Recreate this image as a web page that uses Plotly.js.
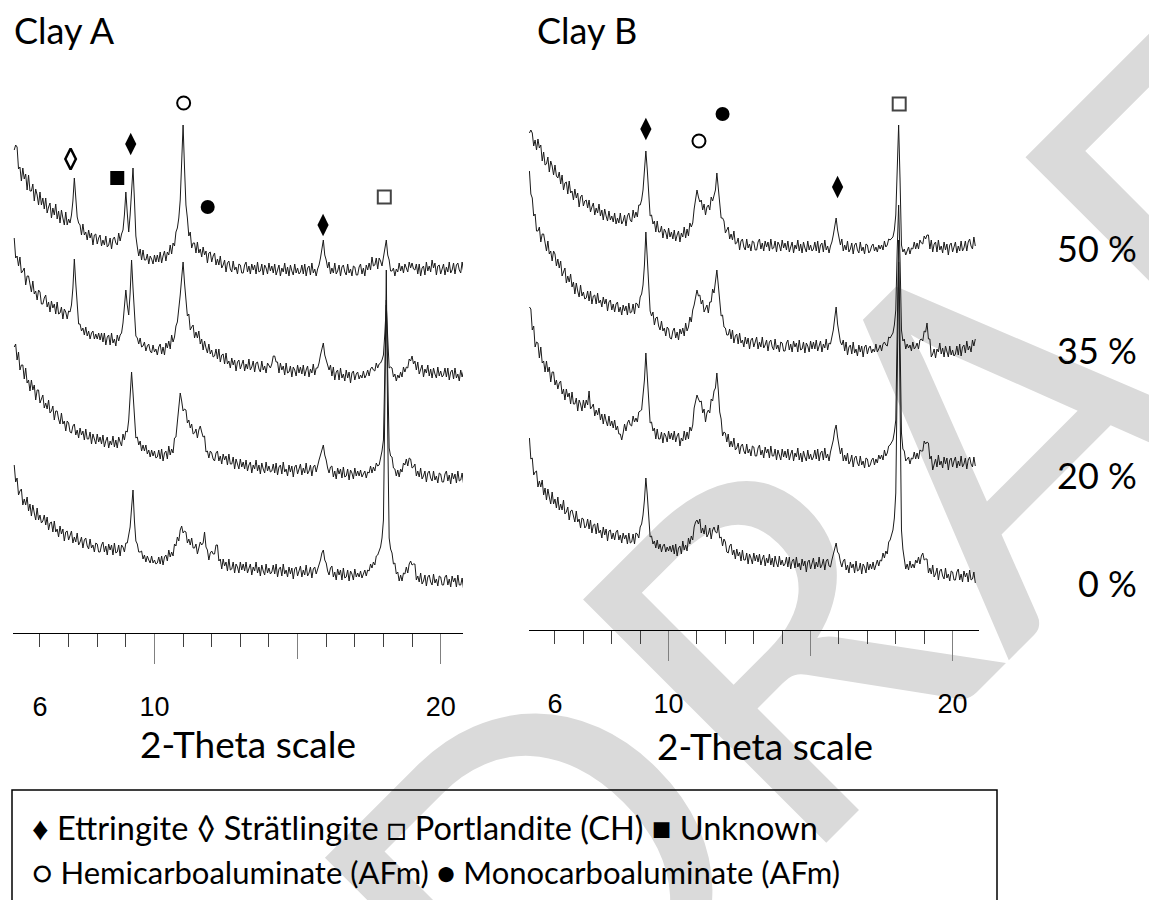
<!DOCTYPE html>
<html><head><meta charset="utf-8">
<script src="https://cdn.plot.ly/plotly-3.0.1.min.js"></script>
<style>
body{margin:0;background:#fff;}
#wrap{position:relative;width:1149px;height:900px;overflow:hidden;background:#fff;}
#wm{position:absolute;left:0;top:0;width:1149px;height:900px;pointer-events:none;}
#wm span{position:absolute;left:952px;top:454px;transform:translate(-50%,-50%) rotate(-45deg);font-family:Lato,sans-serif;font-size:480px;color:#dadada;white-space:nowrap;line-height:1;}
#chart{position:absolute;left:0;top:0;width:1149px;height:900px;}
</style></head><body>
<div id="wrap"><div id="wm"><span>DRAFT</span></div><div id="chart"></div></div>
<script>
// scan definition (2-Theta, degrees)
const scanStart = 5.1, scanStep = 0.05;
const levels = ['0 %', '20 %', '35 %', '50 %'];
const offsetsA = [0, 100, 200, 300];
const offsetsB = [0, 110, 220, 330];

// Clay A intensities (counts, arbitrary), one row per degree
const clayA_0 = [
168,151,155,138,142,144,128,134,128,136,122,129,117,128,120,113,125,113,118,110,
112,118,108,116,103,110,111,101,112,101,104,96,107,99,104,92,101,102,93,98,
102,90,96,91,100,88,91,96,85,93,95,87,84,94,85,88,81,90,89,81,
81,88,91,81,87,78,89,83,88,78,90,80,81,88,77,88,86,81,90,90,
100,106,125,143,112,92,89,81,81,82,74,78,71,77,73,70,77,70,73,69,
70,76,69,77,68,76,78,72,83,76,81,77,89,87,96,92,103,107,100,102,
101,90,94,88,95,85,85,89,79,87,91,88,90,101,86,83,73,80,82,79,
79,88,88,72,74,64,74,67,71,62,74,63,64,71,60,69,66,60,71,63,
69,62,71,60,65,69,58,66,62,71,60,66,57,68,62,58,69,60,65,59,
61,68,59,69,56,64,66,57,69,59,63,56,66,59,65,54,64,66,57,63,
67,56,63,58,68,57,60,66,55,64,66,59,63,69,73,80,83,73,70,62,
58,65,67,56,61,53,64,58,63,53,65,55,56,63,52,62,59,53,64,56,
60,56,62,55,60,63,57,63,62,69,65,71,68,77,78,82,86,95,113,230,
363,200,95,84,80,69,70,59,61,52,58,52,60,59,66,60,69,72,68,69,
69,53,57,51,60,49,52,58,47,56,58,51,48,59,50,54,47,57,56,48,
48,56,58,48,54,46,57,51,55,46,58,48,48,55,44];
const clayA_20 = [
186,189,173,181,163,168,168,154,165,150,153,142,153,143,148,133,143,143,130,135,
138,125,130,124,133,120,122,127,113,122,122,114,109,120,109,112,102,112,110,101,
100,107,109,98,103,95,105,98,102,93,104,94,94,101,89,99,95,89,99,91,
96,89,98,86,92,96,85,92,88,97,86,93,85,96,91,87,99,93,102,101,
113,135,161,140,112,95,96,88,92,82,88,82,88,79,83,76,83,77,82,75,
76,83,74,84,72,80,82,74,87,78,84,80,95,96,111,125,140,132,122,124,
123,110,113,105,109,99,100,104,95,103,107,101,96,97,81,82,75,82,80,74,
72,80,82,72,77,69,79,73,77,68,79,69,69,76,64,74,70,64,74,66,
71,64,73,62,68,71,60,68,64,73,62,68,59,70,64,60,71,62,67,61,
62,69,60,70,58,66,68,59,71,61,64,57,68,61,67,56,66,68,59,65,
69,58,65,60,70,59,62,68,57,66,68,61,68,73,78,84,88,78,73,65,
60,66,67,56,62,54,65,59,64,55,66,56,57,64,53,63,60,54,65,57,
62,57,63,56,60,62,55,61,60,67,60,66,62,70,67,68,75,82,93,170,
233,160,85,77,76,65,64,57,63,56,64,61,70,68,74,67,75,74,65,66,
69,57,62,56,65,54,57,62,51,60,62,55,52,62,53,57,50,60,59,51,
51,59,62,52,58,49,60,54,59,50,62,52,53,60,49];
const clayA_35 = [
195,175,177,167,176,160,162,165,148,157,157,147,141,152,139,142,133,143,141,129,
129,135,138,126,131,121,132,125,129,119,131,119,120,126,114,124,121,114,122,121,
128,145,174,150,126,109,109,102,105,98,106,97,102,94,100,102,94,99,94,100,
93,100,91,100,88,96,98,88,100,90,94,87,98,92,98,100,110,125,143,128,
118,140,173,145,117,97,95,89,95,86,87,91,82,87,89,82,80,88,81,84,
78,86,89,79,86,78,90,85,92,84,98,91,96,107,111,122,138,155,171,150,
135,117,119,103,106,108,95,101,95,102,89,94,83,92,85,80,89,79,83,76,
77,84,74,84,71,78,79,69,80,69,72,65,75,68,73,62,71,73,64,69,
73,62,69,64,74,63,66,72,61,70,71,64,61,72,63,67,60,70,68,65,
69,77,77,71,71,60,70,63,67,58,70,60,61,67,56,66,63,57,68,60,
66,59,68,57,63,67,56,64,60,69,58,65,65,70,78,85,90,78,73,66,
63,68,57,66,53,61,63,53,65,55,59,52,63,55,61,50,60,62,53,59,
61,54,58,55,62,55,58,63,57,64,66,63,62,70,65,69,70,73,78,100,
128,95,65,66,65,56,59,52,58,55,61,56,66,61,66,65,74,72,77,69,
72,63,71,59,64,68,56,64,60,68,57,64,55,65,59,55,66,57,62,56,
58,65,56,65,53,61,63,54,65,55,59,52,63,56,62];
const clayA_50 = [
183,188,186,164,166,152,165,154,159,143,158,142,142,149,132,144,138,128,141,128,
135,124,135,120,126,130,115,125,118,129,114,122,110,123,115,108,121,108,114,110,
118,132,155,138,116,110,108,98,109,98,101,93,103,95,100,88,98,99,89,95,
98,87,93,88,97,86,88,95,84,94,96,90,88,100,92,99,103,118,141,120,
101,118,145,165,133,97,86,77,84,73,83,73,73,79,69,77,74,69,78,71,
78,71,81,70,77,82,72,81,78,88,79,90,87,101,105,115,133,165,208,165,
128,115,97,101,85,90,90,80,91,80,84,76,86,78,82,70,80,81,71,77,
80,68,74,68,77,65,68,73,61,70,72,64,61,72,63,66,59,69,68,60,
60,68,71,61,67,59,69,63,68,59,71,61,62,69,58,68,65,59,70,62,
67,60,69,58,64,68,57,65,61,70,59,66,57,68,62,58,69,60,65,59,
61,68,59,69,57,65,67,58,70,60,64,57,64,68,75,85,93,78,73,65,
71,59,65,60,70,59,62,68,57,66,68,61,58,69,60,64,57,67,66,58,
58,66,69,59,65,57,68,63,70,63,76,67,68,75,64,75,72,67,77,82,
93,78,73,62,62,65,57,64,61,70,62,67,60,69,64,61,71,65,70,64,
63,69,59,69,57,65,67,58,71,62,67,61,73,65,70,58,67,68,59,65,
69,58,66,61,71,60,63,70,59,68,70,63,60,71,62];

// Clay B intensities
const clayB_0 = [
192,171,172,155,158,159,143,149,143,150,135,142,130,141,133,126,138,126,131,122,
133,120,126,120,130,116,118,123,110,119,120,112,108,119,108,111,102,112,111,102,
104,111,101,110,97,105,106,96,107,97,100,92,103,95,101,89,99,100,91,97,
90,98,100,90,95,87,97,91,95,86,97,87,88,96,86,97,96,92,103,106,
115,130,152,135,110,93,94,86,89,82,90,81,86,78,84,86,78,83,79,84,
78,85,76,86,74,82,84,76,89,80,85,79,92,86,94,90,103,108,110,106,
111,97,102,96,105,93,96,102,91,100,103,98,97,105,92,93,84,91,88,78,
77,84,86,75,80,71,81,74,78,69,80,70,70,77,66,76,72,66,77,69,
75,68,76,65,71,75,64,72,67,76,65,72,63,74,67,63,74,65,70,64,
66,73,63,73,61,69,71,62,73,63,67,60,71,64,69,58,68,70,61,67,
72,61,68,63,73,62,65,71,60,69,71,64,63,70,75,82,87,78,76,68,
63,69,71,60,65,57,68,62,66,57,69,59,60,67,56,66,63,57,68,60,
66,61,68,60,66,70,64,70,69,77,72,79,76,88,90,95,100,112,137,250,
368,230,100,81,73,61,66,60,69,62,66,62,70,67,73,66,74,77,70,71,
71,57,62,56,65,53,56,62,50,59,61,54,51,62,52,56,49,59,58,50,
50,58,61,50,56,48,59,53,57,48,60,50,51,58,47];
const clayB_20 = [
213,211,190,194,173,178,177,162,173,157,159,148,159,148,153,138,148,148,135,140,
131,137,139,126,131,120,131,123,127,116,128,116,116,122,109,120,116,109,120,112,
120,115,129,111,113,116,104,110,105,112,100,106,96,106,99,94,104,94,99,92,
100,90,94,86,86,80,87,96,89,97,100,95,94,104,98,102,98,108,109,110,
125,140,167,145,120,97,98,89,92,81,91,81,81,88,77,87,84,78,89,81,
87,80,89,78,84,87,74,82,79,89,80,88,81,93,89,95,112,118,125,121,
118,119,107,111,98,107,110,107,121,119,129,132,147,130,108,101,84,88,87,78,
86,73,79,73,82,70,72,77,66,74,76,69,66,76,67,71,64,74,73,64,
64,72,75,65,70,62,73,67,71,62,74,64,64,71,60,70,66,60,71,63,
69,62,71,60,66,70,59,67,63,72,60,67,58,69,63,59,70,61,66,60,
63,70,61,71,59,67,69,60,72,62,66,59,68,73,80,90,95,83,74,66,
72,59,65,59,67,56,59,65,53,62,64,57,54,64,55,59,52,62,61,53,
55,60,62,55,61,57,65,61,65,60,70,64,67,74,75,78,80,88,100,190,
280,180,87,71,69,59,61,63,56,62,61,68,61,67,61,70,69,69,79,76,
78,77,61,64,50,57,61,53,65,55,59,52,63,56,62,50,60,62,53,59,
63,52,59,54,64,53,56,62,51,60,63,56,53,63,54];
const clayB_35 = [
239,216,212,194,196,179,179,183,168,176,176,165,159,169,156,159,149,159,156,144,
151,142,149,134,139,142,127,134,128,136,123,128,116,127,119,113,125,114,118,111,
112,119,109,119,106,114,115,106,117,107,110,103,113,106,111,99,108,110,100,106,
98,106,108,98,103,95,105,99,104,95,107,97,98,106,96,107,106,102,113,116,
125,145,178,150,120,99,94,98,85,92,93,84,80,89,79,82,74,83,81,72,
71,79,82,72,78,70,81,76,82,74,87,79,83,93,88,100,105,113,120,114,
115,106,110,98,101,105,97,108,108,121,117,132,140,125,109,94,95,83,82,75,
75,81,71,80,67,74,76,66,77,67,70,63,73,66,72,61,70,72,63,69,
73,61,68,63,73,62,65,70,59,68,70,63,60,71,61,65,58,68,67,59,
59,67,70,60,66,58,69,63,67,58,70,60,61,68,57,67,64,58,69,61,
68,61,70,59,65,69,58,66,62,71,60,67,66,72,80,92,103,86,77,68,
65,70,59,68,55,63,65,56,68,57,61,54,65,58,64,53,63,65,56,62,
64,57,61,58,66,58,61,65,59,66,68,65,64,73,72,75,77,85,100,160,
205,150,80,69,71,61,66,62,65,59,68,61,63,67,61,70,71,69,79,78,
87,71,71,53,56,61,52,61,58,67,56,62,53,64,57,53,64,55,60,54,
56,64,55,66,54,63,65,57,69,60,64,58,70,64,71];
const clayB_50 = [
167,170,167,154,160,150,161,152,155,139,148,135,136,143,128,139,134,125,135,124,
122,128,116,125,110,117,118,106,119,107,109,100,111,102,107,93,103,105,94,99,
100,92,100,88,93,97,85,92,87,96,84,90,80,91,84,79,89,80,84,78,
87,76,82,77,87,76,79,85,74,84,87,80,78,90,82,88,83,95,95,100,
110,128,149,130,105,84,85,76,79,68,79,68,68,74,62,71,68,61,72,63,
68,61,70,59,65,69,58,67,63,73,62,71,64,77,73,77,91,100,110,103,
98,100,90,96,85,93,95,90,103,99,106,110,127,110,97,82,82,79,67,70,
73,61,66,60,69,56,57,62,50,59,61,53,50,61,52,56,49,59,58,50,
50,58,61,51,57,49,59,53,58,49,61,51,52,59,48,58,55,49,60,52,
57,50,59,48,54,58,47,55,51,60,49,56,47,58,52,48,59,50,55,49,
51,58,49,59,47,55,57,48,60,50,54,47,54,58,65,75,82,70,62,55,
61,49,55,50,59,48,51,57,46,55,57,50,47,58,49,53,46,56,55,47,
49,54,56,49,53,48,55,51,55,50,59,53,55,61,60,62,63,70,85,130,
175,120,55,48,51,45,50,53,46,52,51,58,51,57,51,60,57,56,64,61,
65,65,51,60,48,56,58,48,60,50,54,47,58,50,56,45,55,57,48,54,
58,47,54,49,59,49,52,59,49,58,61,54,51,63,54];

// phase markers
const phaseA = ['strat','ettr','unknown','hemi','mono','ettr','ch'];
const phaseAx = [7.07, 9.17, 8.70, 11.02, 11.86, 15.89, 18.03];
const phaseAy = [474, 489, 455, 530, 426, 408, 436];
const phaseB = ['ettr','hemi','mono','ettr','ch'];
const phaseBx = [9.20, 11.07, 11.90, 15.95, 18.12];
const phaseBy = [501, 489, 516, 443, 526];

const tickLabels = [6, 10, 20];
const smallTicks = [6,7,8,9,10,11,12,13,14,15,16,17,18,19,20];
const bigTicks = [10, 20];
const midTicks = [15];

const symbolOf = {
  ettr: {symbol:'diamond-tall', size:16, color:'#000', lw:0},
  strat: {symbol:'diamond-tall-open', size:15, color:'#000', lw:2.5},
  ch: {symbol:'square-open', size:13, color:'#444', lw:2},
  unknown: {symbol:'square', size:14, color:'#000', lw:0},
  hemi: {symbol:'circle-open', size:13, color:'#000', lw:2},
  mono: {symbol:'circle', size:14, color:'#000', lw:0}
};

const traces = [];
const setsA = [clayA_0, clayA_20, clayA_35, clayA_50];
const setsB = [clayB_0, clayB_20, clayB_35, clayB_50];
function addPattern(vals, off, xa, ya, name) {
  traces.push({type:'scatter', mode:'lines', x0:scanStart, dx:scanStep,
    y: vals.map(v => v + off), xaxis:xa, yaxis:ya, name:name,
    line:{color:'#1a1a1a', width:1}, hoverinfo:'skip'});
}
setsA.forEach((s,i) => addPattern(s, offsetsA[i], 'x', 'y', 'Clay A ' + levels[i]));
setsB.forEach((s,i) => addPattern(s, offsetsB[i], 'x2', 'y2', 'Clay B ' + levels[i]));

function addMarkers(types, xs, ys, xa, ya) {
  types.forEach((t, i) => {
    const st = symbolOf[t];
    traces.push({type:'scatter', mode:'markers', x:[xs[i]], y:[ys[i]], xaxis:xa, yaxis:ya,
      cliponaxis:false, hoverinfo:'skip',
      marker:{symbol:st.symbol, size:st.size, color:st.color, line:{color:st.color, width:st.lw}}});
  });
}
addMarkers(phaseA, phaseAx, phaseAy, 'x', 'y');
addMarkers(phaseB, phaseBx, phaseBy, 'x2', 'y2');

// empty carriers so that the tick-only overlay axes are drawn
[['x3','y'],['x5','y'],['x7','y'],['x4','y2'],['x6','y2'],['x8','y2']].forEach(p => {
  traces.push({type:'scatter', mode:'lines', x:[], y:[], xaxis:p[0], yaxis:p[1], hoverinfo:'skip', showlegend:false});
});

const W = 1149, H = 900;
const rangeA = [5.057, 20.78], rangeB = [5.085, 20.93];
const tickFont = {family:'Liberation Sans, Arial, sans-serif', size:27, color:'#000'};
const titleFont = {family:'Lato, sans-serif', size:37, color:'#000'};
const bigFont = {family:'Lato, sans-serif', size:36, color:'#000'};

function mainX(domain, range, anchor) {
  return {domain:domain, range:range, autorange:false, anchor:anchor, showline:true, linecolor:'#000', linewidth:1,
    showgrid:false, zeroline:false, tickmode:'array', tickvals:tickLabels, ticktext:tickLabels.map(String),
    ticks:'', tickfont:tickFont, ticklabelstandoff:50};
}
function tickX(over, range, anchor, vals, len, color) {
  return {overlaying:over, anchor:anchor, range:range, autorange:false, showline:false, showgrid:false, zeroline:false,
    tickmode:'array', tickvals:vals, ticks:'outside', ticklen:len, tickwidth:1, tickcolor:color,
    showticklabels:false};
}

const annotations = [
  {text:'Clay A', x:12/W, y:(H-30)/H, xref:'paper', yref:'paper', xanchor:'left', yanchor:'middle', showarrow:false, font:bigFont},
  {text:'Clay B', x:535/W, y:(H-30)/H, xref:'paper', yref:'paper', xanchor:'left', yanchor:'middle', showarrow:false, font:bigFont},
  {text:'2-Theta scale', x:248/W, y:(H-743)/H, xref:'paper', yref:'paper', xanchor:'center', yanchor:'middle', showarrow:false, font:titleFont},
  {text:'2-Theta scale', x:765/W, y:(H-745)/H, xref:'paper', yref:'paper', xanchor:'center', yanchor:'middle', showarrow:false, font:titleFont}
];
const pctY = [583, 475, 350, 248];
levels.forEach((l, i) => annotations.push({text:l, x:1139/W, y:(H-pctY[i])/H, xref:'paper', yref:'paper',
  xanchor:'right', yanchor:'middle', showarrow:false, font:bigFont}));
annotations.push({text:'♦ Ettringite ◊ Strätlingite □ Portlandite (CH) ■ Unknown', x:30/W, y:(H-827)/H,
  xref:'paper', yref:'paper', xanchor:'left', yanchor:'middle', showarrow:false,
  font:{family:'Lato, sans-serif', size:32.5, color:'#000'}});
annotations.push({text:'○ Hemicarboaluminate (AFm) ● Monocarboaluminate (AFm)', x:30/W, y:(H-872)/H,
  xref:'paper', yref:'paper', xanchor:'left', yanchor:'middle', showarrow:false,
  font:{family:'Lato, sans-serif', size:31, color:'#000'}});

const layout = {
  width:W, height:H, margin:{l:0,r:0,t:0,b:0}, showlegend:false,
  paper_bgcolor:'rgba(0,0,0,0)', plot_bgcolor:'rgba(0,0,0,0)',
  xaxis:mainX([13/W, 463/W], rangeA, 'y'),
  xaxis2:mainX([529/W, 979/W], rangeB, 'y2'),
  xaxis3:tickX('x', rangeA, 'y', smallTicks, 13, '#404040'),
  xaxis5:tickX('x', rangeA, 'y', bigTicks, 30, '#808080'),
  xaxis7:tickX('x', rangeA, 'y', midTicks, 25, '#808080'),
  xaxis4:tickX('x2', rangeB, 'y2', smallTicks, 13, '#404040'),
  xaxis6:tickX('x2', rangeB, 'y2', bigTicks, 30, '#808080'),
  xaxis8:tickX('x2', rangeB, 'y2', midTicks, 25, '#808080'),
  yaxis:{domain:[(H-633)/H, (H-80)/H], range:[0,553], autorange:false, visible:false, anchor:'x'},
  yaxis2:{domain:[(H-630)/H, (H-80)/H], range:[0,550], autorange:false, visible:false, anchor:'x2'},
  annotations:annotations,
  shapes:[{type:'rect', xref:'paper', yref:'paper', x0:12/W, x1:997/W, y0:-0.05, y1:(H-790)/H,
    line:{color:'#000', width:1.5}, fillcolor:'rgba(0,0,0,0)'}]
};
Plotly.newPlot('chart', traces, layout, {staticPlot:true, displayModeBar:false});
</script></body></html>
